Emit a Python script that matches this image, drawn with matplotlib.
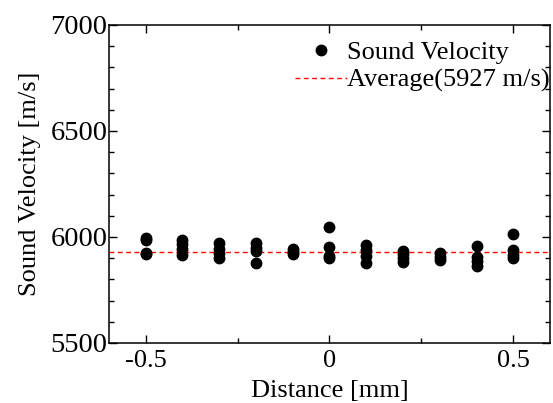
import matplotlib
matplotlib.use("Agg")
import matplotlib.pyplot as plt
from matplotlib.ticker import MultipleLocator

plt.rcParams['font.family'] = ['Liberation Serif', 'DejaVu Serif']
plt.rcParams['font.size'] = 19

distance = [-0.5, -0.4, -0.3, -0.2, -0.1, 0.0, 0.1, 0.2, 0.3, 0.4, 0.5]
velocity = [
    [5995, 5985, 5925, 5920],
    [5988, 5965, 5945, 5917],
    [5972, 5945, 5925, 5900],
    [5972, 5950, 5932, 5876],
    [5945, 5930, 5918],
    [6048, 5952, 5912, 5903],
    [5962, 5940, 5910, 5877],
    [5935, 5918, 5900, 5882],
    [5922, 5905, 5890],
    [5958, 5905, 5885, 5865],
    [6014, 5940, 5915, 5900],
]
average = 5927

xs = []
ys = []
for d, vals in zip(distance, velocity):
    for v in vals:
        xs.append(d)
        ys.append(v)

fig = plt.figure(figsize=(5.53, 4.03), dpi=100)
ax = fig.add_axes([0.197, 0.149, 0.7976, 0.789])

ax.plot(xs, ys, 'o', color='black', markersize=7.5, label='Sound Velocity', zorder=3)
ax.axhline(average, color='red', linestyle=(0, (3.5, 2.5)), linewidth=1.0,
           label=f'Average({average} m/s)', zorder=2)

ax.set_xlim(-0.6, 0.6)
ax.set_ylim(5500, 7000)
ax.xaxis.set_major_locator(MultipleLocator(0.5))
ax.xaxis.set_minor_locator(MultipleLocator(0.25))
ax.yaxis.set_major_locator(MultipleLocator(500))
ax.yaxis.set_minor_locator(MultipleLocator(100))
ax.set_xticks([-0.5, 0, 0.5])
ax.set_xticklabels(['-0.5', '0', '0.5'])
ax.tick_params(which='both', direction='in', top=True, right=True, width=1.0)
ax.tick_params(which='major', length=6)
ax.tick_params(which='minor', length=3.5)
ax.tick_params(axis='x', which='major', pad=5, labelsize=19)
ax.tick_params(axis='y', which='major', pad=1, labelsize=20.5)
for s in ax.spines.values():
    s.set_linewidth(1.1)

ax.set_xlabel('Distance [mm]', labelpad=5.5)
ax.set_ylabel('Sound Velocity [m/s]', labelpad=7)

ax.legend(loc='upper right', bbox_to_anchor=(1.0, 0.95), frameon=False,
          handletextpad=0.0, borderpad=0.0, borderaxespad=0.0, labelspacing=0.15,
          handlelength=2.0, fontsize=19)

fig.savefig('out.png', dpi=100)
